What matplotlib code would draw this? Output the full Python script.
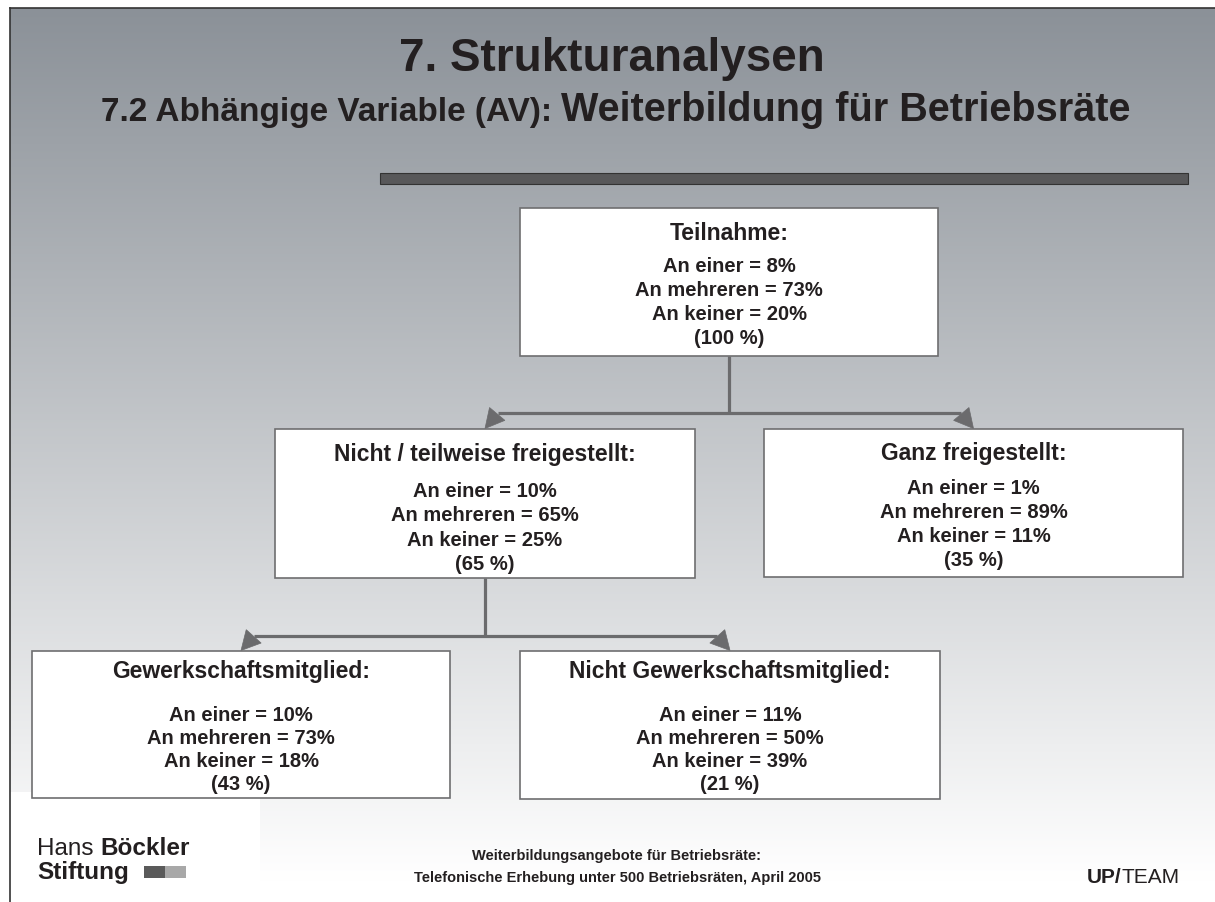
import numpy as np
import matplotlib.pyplot as plt
from matplotlib.patches import Rectangle, Polygon
from matplotlib.colors import to_rgb

# Baum: Teilnahme an Weiterbildung (Anteile in %)
titles = ["Teilnahme:", "Nicht / teilweise freigestellt:", "Ganz freigestellt:",
          "Gewerkschaftsmitglied:", "Nicht Gewerkschaftsmitglied:"]
an_einer = [8, 10, 1, 10, 11]
an_mehreren = [73, 65, 89, 73, 50]
an_keiner = [20, 25, 11, 18, 39]
anteil = [100, 65, 35, 43, 21]
parent = [None, 0, 0, 1, 1]

title = "7. Strukturanalysen"
sub_small = "7.2 Abhängige Variable (AV): "
sub_big = "Weiterbildung für Betriebsräte"
footer_lines = ["Weiterbildungsangebote für Betriebsräte:",
                "Telefonische Erhebung unter 500 Betriebsräten, April 2005"]

# Layout in Pixeln (x0, y0, x1, y1), Kopf-/Textabstand, Zeilenabstand
boxes = [(520, 208, 938, 356), (275, 429, 695, 578), (764, 429, 1183, 577),
         (32, 651, 450, 798), (520, 651, 940, 799)]
head_off = [32, 32, 31, 27, 27]
body_off = [64, 68, 65, 70, 70]
line_gap = [24, 24.3, 24, 23, 23]
branch_y = {0: 413, 1: 636}

W, H = 1215, 902
TXT = "#231f20"
LINE = "#6b6b6d"
FONT = "Liberation Sans"

fig = plt.figure(figsize=(W / 100, H / 100), dpi=100)
ax = fig.add_axes([0, 0, 1, 1])
ax.set_xlim(0, W)
ax.set_ylim(H, 0)
ax.axis("off")

# Hintergrund-Verlauf
top_c = np.array(to_rgb("#8b9198"))
t = np.clip(np.linspace(0, 1, 400) * (H - 8) / 872, 0, 1)[:, None, None]
grad = top_c + (1 - top_c) * t
grad = np.repeat(grad, 2, axis=1)
ax.imshow(grad, extent=(10, W, H, 8), aspect="auto", zorder=0, interpolation="bilinear")
ax.add_patch(Rectangle((10, 792), 250, H - 792, facecolor="white", edgecolor="none", zorder=0.5))
ax.plot([10, W], [8, 8], color="#333333", lw=1.2, zorder=1)
ax.plot([10, 10], [8, H], color="#333333", lw=1.2, zorder=1)

# Balken unter dem Titel
ax.add_patch(Rectangle((380, 173), 808, 11, facecolor="#58585a", edgecolor="#333333", lw=0.8, zorder=2))

renderer = fig.canvas.get_renderer()


def text_w(txt):
    return txt.get_window_extent(renderer).width


ax.text(612, 71, title, ha="center", va="baseline", fontsize=33, fontweight="bold",
        family=FONT, color=TXT)
t1 = ax.text(0, 121, sub_small, ha="left", va="baseline", fontsize=24, fontweight="bold",
             family=FONT, color=TXT)
t2 = ax.text(0, 121, sub_big, ha="left", va="baseline", fontsize=28.5, fontweight="bold",
             family=FONT, color=TXT)
w1, w2 = text_w(t1), text_w(t2)
x_start = 616 - (w1 + w2) / 2
t1.set_x(x_start)
t2.set_x(x_start + w1)

# Kästen
for i, (x0, y0, x1, y1) in enumerate(boxes):
    ax.add_patch(Rectangle((x0, y0), x1 - x0, y1 - y0, facecolor="white",
                           edgecolor="#6e6e70", lw=1.2, zorder=3))
    cx = (x0 + x1) / 2
    ax.text(cx, y0 + head_off[i], titles[i], ha="center", va="baseline", fontsize=16.5,
            fontweight="bold", family=FONT, color=TXT, zorder=4)
    lines = [f"An einer = {an_einer[i]}%", f"An mehreren = {an_mehreren[i]}%",
             f"An keiner = {an_keiner[i]}%", f"({anteil[i]} %)"]
    for k, s in enumerate(lines):
        ax.text(cx, y0 + body_off[i] + k * line_gap[i], s, ha="center", va="baseline",
                fontsize=14.5, fontweight="bold", family=FONT, color=TXT, zorder=4)

# Verbindungen mit Pfeilspitzen
for p in sorted(set(q for q in parent if q is not None)):
    px0, py0, px1, py1 = boxes[p]
    pcx = (px0 + px1) / 2
    by = branch_y[p]
    kids = [i for i, q in enumerate(parent) if q == p]
    ax.plot([pcx, pcx], [py1, by], color=LINE, lw=2.3, zorder=2, solid_capstyle="butt")
    ends = []
    for c in kids:
        cx0, cy0, cx1, cy1 = boxes[c]
        ccx = (cx0 + cx1) / 2
        sgn = -1 if ccx < pcx else 1
        start = np.array([ccx - sgn * 13, by])
        tip = np.array([ccx, cy0 - 0.5])
        ends.append(start[0])
        d = (tip - start) / np.linalg.norm(tip - start)
        perp = np.array([-d[1], d[0]])
        base = tip - d * 19
        ax.add_patch(Polygon([tip, base + perp * 10, base - perp * 10], closed=True,
                             facecolor=LINE, edgecolor=LINE, lw=0.5, zorder=2))
    ax.plot([min(ends), max(ends)], [by, by], color=LINE, lw=2.3, zorder=2, solid_capstyle="butt")

# Fußzeile
h1 = ax.text(37, 855, "Hans ", ha="left", va="baseline", fontsize=17.5, family=FONT, color=TXT)
ax.text(37 + text_w(h1), 855, "Böckler", ha="left", va="baseline", fontsize=17.5,
        fontweight="bold", family=FONT, color=TXT)
s1 = ax.text(37, 879, "Stiftung", ha="left", va="baseline", fontsize=17.5, fontweight="bold",
             family=FONT, color=TXT)
lx = 37 + text_w(s1) + 15
ax.add_patch(Rectangle((lx, 866), 21, 12, facecolor="#5a5a5a", edgecolor="none", zorder=3))
ax.add_patch(Rectangle((lx + 21, 866), 21, 12, facecolor="#a8a8a8", edgecolor="none", zorder=3))

ax.text(617, 860, footer_lines[0], ha="center", va="baseline", fontsize=10.5,
        fontweight="bold", family=FONT, color=TXT)
ax.text(617, 882, footer_lines[1], ha="center", va="baseline", fontsize=10.5,
        fontweight="bold", family=FONT, color=TXT)

u1 = ax.text(0, 883, "UP/", ha="left", va="baseline", fontsize=15, fontweight="bold",
             family=FONT, color=TXT)
u2 = ax.text(0, 883, "TEAM", ha="left", va="baseline", fontsize=15, family=FONT, color=TXT)
uw1, uw2 = text_w(u1), text_w(u2)
u1.set_x(1180 - uw1 - uw2)
u2.set_x(1180 - uw2)

fig.savefig("out.png", dpi=100)
